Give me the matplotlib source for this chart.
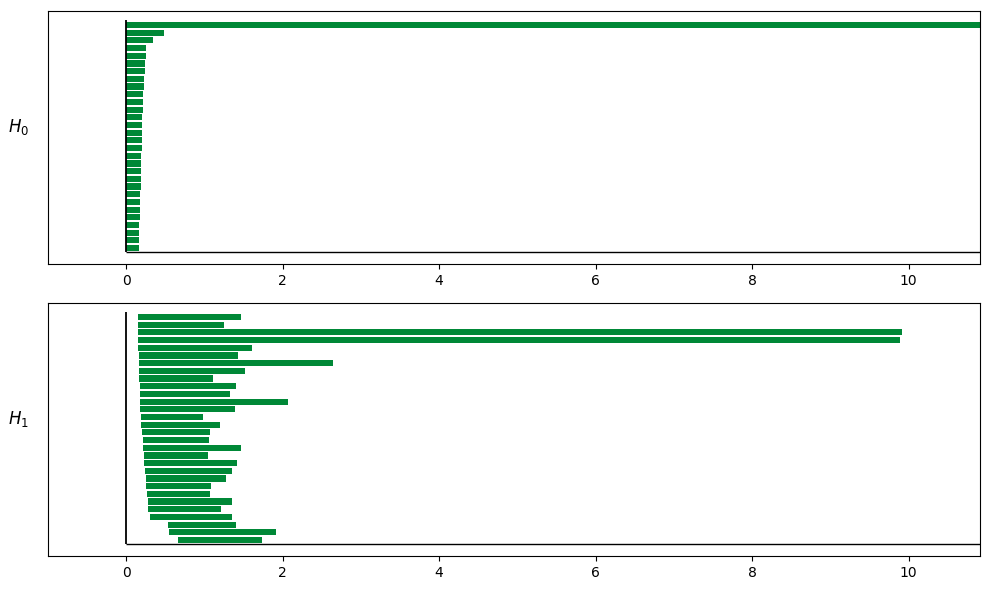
import numpy as np
import matplotlib.pyplot as plt

# persistence intervals, listed top to bottom as drawn
h0_births = [0.0] * 30
h0_deaths = [np.inf, 0.48, 0.34, 0.25, 0.25, 0.238, 0.238, 0.226, 0.226, 0.213,
             0.213, 0.213, 0.20, 0.20, 0.20, 0.20, 0.20, 0.188, 0.188, 0.188,
             0.188, 0.188, 0.175, 0.175, 0.175, 0.175, 0.162, 0.162, 0.162, 0.162]

h1_births = [0.153, 0.153, 0.153, 0.153, 0.153, 0.166, 0.166, 0.166, 0.166, 0.179,
             0.179, 0.179, 0.179, 0.192, 0.192, 0.205, 0.217, 0.217, 0.23, 0.23,
             0.243, 0.256, 0.256, 0.268, 0.281, 0.281, 0.307, 0.537, 0.55, 0.665]
h1_deaths = [1.471, 1.253, 9.92, 9.885, 1.611, 1.432, 2.647, 1.522, 1.113, 1.407,
             1.33, 2.07, 1.394, 0.985, 1.202, 1.074, 1.061, 1.471, 1.049, 1.42,
             1.356, 1.279, 1.087, 1.074, 1.356, 1.215, 1.356, 1.407, 1.918, 1.739]

labels = ['$H_0$', '$H_1$']
color = '#008837'

finite = [d for d in h0_deaths + h1_deaths if np.isfinite(d)]
xmax = 1.1 * max(finite)

fig = plt.figure(figsize=(9.89, 5.9), dpi=100)
ax_top = fig.add_axes([0.0485, 0.5525, 0.9424, 0.4288])
ax_bot = fig.add_axes([0.0485, 0.0576, 0.9424, 0.4288])

for ax, births, deaths, label in zip([ax_top, ax_bot], [h0_births, h1_births],
                                     [h0_deaths, h1_deaths], labels):
    n = len(births)
    b = np.array(births)
    d = np.array([xmax if not np.isfinite(x) else x for x in deaths])
    y = np.arange(n)[::-1]
    ax.barh(y, d - b, left=b, height=0.8, color=color)
    ax.vlines(0, -0.5, n - 0.4, color='black', linewidth=1.3)
    ax.hlines(-0.5, 0, xmax, color='black', linewidth=1.0)
    ax.set_xlim(-1, xmax)
    ax.set_ylim(-2.08, n + 0.82)
    ax.set_yticks([])
    ax.set_ylabel(label, rotation=0, fontsize=12, ha='center', va='center')
    ax.yaxis.set_label_coords(-0.032, 0.54)

fig.savefig('out.png', dpi=100)
